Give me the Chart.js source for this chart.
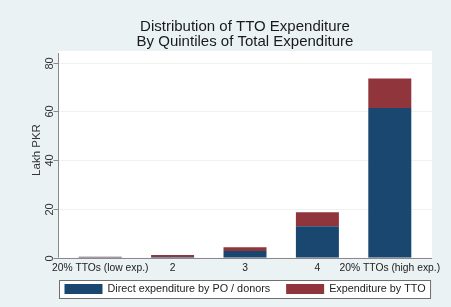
<!DOCTYPE html>
<html>
<head>
<meta charset="utf-8">
<script src="https://cdn.jsdelivr.net/npm/chart.js@4/dist/chart.umd.min.js"></script>
<style>
  html, body { margin: 0; padding: 0; background: #eaf2f3; }
  #wrap { width: 451px; height: 307px; }
</style>
</head>
<body>
<div id="wrap"><canvas id="barChart" width="451" height="307"></canvas></div>
<script>
// quintile groups
let quintiles = ['20% TTOs (low exp.)', '2', '3', '4', '20% TTOs (high exp.)'];

// stacked parts, lakh PKR
let directExp = [0.15, 0.3, 2.7, 12.9, 61.4];
let ttoExp = [0.25, 0.8, 1.6, 5.7, 12.1];

let yTicks = [0, 20, 40, 60, 80];

let blue = '#1a476f';
let red = '#90353b';
let axisGrey = '#8a8a8a';
let fontFam = 'Arial, "Liberation Sans", sans-serif';

// white plot region, axes, y labels and boxed legend drawn by hand (Stata look)
let stataFrame = {
    id: 'stataFrame',
    beforeDraw(chart) {
        let c = chart.ctx, a = chart.chartArea;
        c.save();
        c.fillStyle = '#eaf2f3';
        c.fillRect(0, 0, chart.width, chart.height);
        c.fillStyle = '#ffffff';
        c.fillRect(a.left - 6, a.top - 2, a.right - a.left + 12, a.bottom - a.top + 2);
        // faint gridlines
        let y = chart.scales.y;
        c.strokeStyle = '#f1f1f1';
        c.lineWidth = 1;
        yTicks.forEach(v => {
            if (v === 0) return;
            let py = Math.round(y.getPixelForValue(v)) + 0.5;
            c.beginPath();
            c.moveTo(a.left - 6, py);
            c.lineTo(a.right + 6, py);
            c.stroke();
        });
        c.restore();
    },
    afterDatasetsDraw(chart) {
        let c = chart.ctx, a = chart.chartArea, y = chart.scales.y;
        let ax = a.left - 6 + 0.5;
        c.save();
        c.strokeStyle = axisGrey;
        c.lineWidth = 1;
        c.beginPath();
        c.moveTo(ax, a.top);
        c.lineTo(ax, a.bottom);
        c.moveTo(a.left - 6, Math.round(a.bottom) + 0.5);
        c.lineTo(a.right + 6, Math.round(a.bottom) + 0.5);
        c.stroke();
        c.fillStyle = '#333333';
        c.font = '11px ' + fontFam;
        c.textAlign = 'center';
        c.textBaseline = 'middle';
        yTicks.forEach(v => {
            let py = Math.round(y.getPixelForValue(v)) + 0.5;
            c.beginPath();
            c.moveTo(ax - 5, py);
            c.lineTo(ax, py);
            c.stroke();
            c.save();
            c.translate(ax - 8.5, py);
            c.rotate(-Math.PI / 2);
            c.fillText(String(v), 0, 0);
            c.restore();
        });
        // y title
        c.save();
        c.translate(37, 150);
        c.rotate(-Math.PI / 2);
        c.font = '11.5px ' + fontFam;
        c.fillText('Lakh PKR', 0, 0);
        c.restore();

        // legend: one row inside a framed box, centred under the plot
        c.font = '10.8px ' + fontFam;
        c.textAlign = 'left';
        let sw = 38, gapTxt = 5, gapItem = 16;
        let items = chart.data.datasets.map(ds => ({
            text: ds.label, color: ds.backgroundColor, w: sw + gapTxt + c.measureText(ds.label).width
        }));
        let total = items.reduce((s, it) => s + it.w, 0) + gapItem * (items.length - 1);
        let mid = (a.left + a.right) / 2;
        let boxL = Math.round(mid - total / 2 - 5) + 0.5;
        let boxT = Math.round(a.bottom + 22) + 0.5;
        c.fillStyle = '#ffffff';
        c.fillRect(boxL, boxT, total + 10, 18);
        c.strokeStyle = '#6e6e6e';
        c.strokeRect(boxL, boxT, total + 10, 18);
        let x = boxL + 5;
        items.forEach(it => {
            c.fillStyle = it.color;
            c.fillRect(x, boxT + 3.5, sw, 10);
            c.fillStyle = '#222222';
            c.fillText(it.text, x + sw + gapTxt, boxT + 9);
            x += it.w + gapItem;
        });
        c.restore();
    }
};

let ctx = document.getElementById('barChart').getContext('2d');
let chart = new Chart(ctx, {
    type: 'bar',
    data: {
        labels: quintiles,
        datasets: [{
            label: 'Direct expenditure by PO / donors',
            data: directExp,
            backgroundColor: blue,
            borderWidth: 0,
            barPercentage: 0.594,
            categoryPercentage: 1
        },
        {
            label: 'Expenditure by TTO',
            data: ttoExp,
            backgroundColor: red,
            borderWidth: 0,
            barPercentage: 0.594,
            categoryPercentage: 1
        }]
    },
    options: {
        responsive: false,
        animation: false,
        layout: { padding: { left: 0, right: 25, top: 0, bottom: 29 } },
        scales: {
            x: {
                stacked: true,
                grid: { display: false, drawTicks: false },
                border: { display: false },
                ticks: {
                    color: '#222222',
                    padding: 4,
                    maxRotation: 0,
                    autoSkip: false,
                    font: { family: fontFam, size: 10.3 }
                }
            },
            y: {
                stacked: true,
                min: 0,
                max: 84,
                grid: { display: false, drawTicks: false },
                border: { display: false },
                ticks: { display: false },
                afterFit: s => { s.width = 64; }
            }
        },
        plugins: {
            title: {
                display: true,
                fullSize: false,
                text: ['Distribution of TTO Expenditure', 'By Quintiles of Total Expenditure'],
                color: '#1a1a1a',
                font: { family: fontFam, size: 15, weight: 'normal', lineHeight: 1.0 },
                padding: { top: 19, bottom: 4 }
            },
            legend: { display: false },
            tooltip: { enabled: false }
        }
    },
    plugins: [stataFrame]
});
</script>
</body>
</html>
